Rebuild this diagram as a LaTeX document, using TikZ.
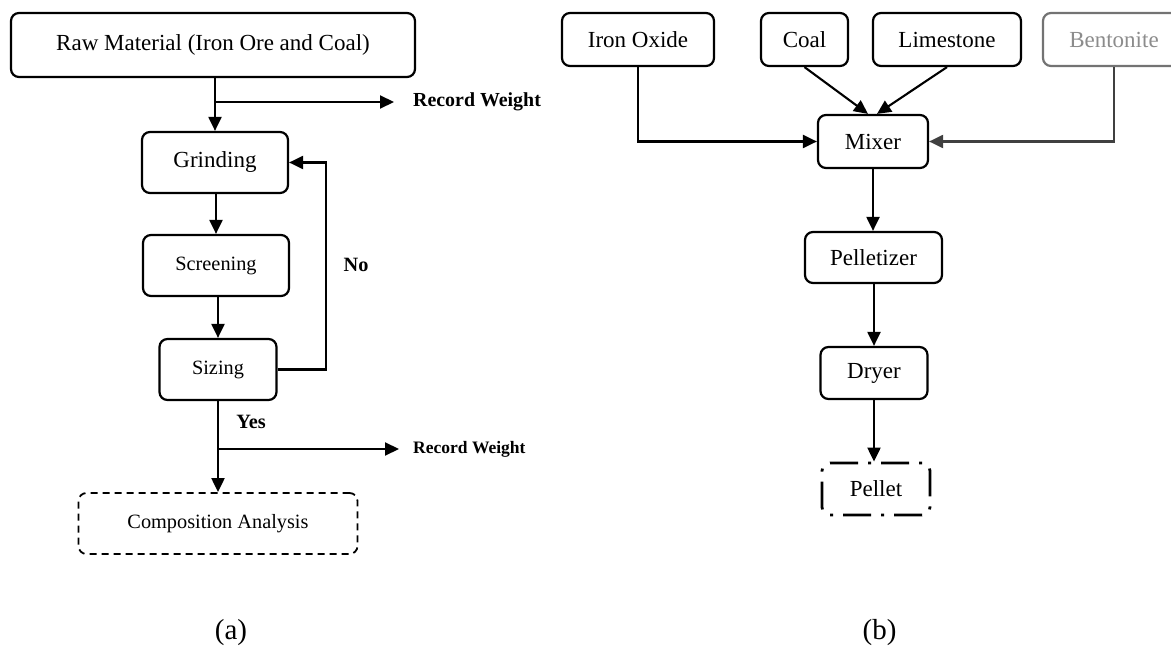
\documentclass[tikz,border=0pt]{standalone}
\usepackage{fontspec}
\setmainfont{Liberation Serif}
\usetikzlibrary{arrows.meta}
\newcommand{\fsA}{\fontsize{23}{26}\selectfont}
\newcommand{\fsB}{\fontsize{20.3}{23}\selectfont}
\newcommand{\fsL}{\fontsize{29}{32}\selectfont}
\tikzset{
  box/.style={draw, rounded corners=8pt, line width=2.2pt, inner sep=0pt, font=\fsA},
  dbox/.style={box, dash pattern=on 7pt off 5pt, line width=1.8pt},
  ddbox/.style={box, line width=2.8pt, dash pattern=on 3pt off 10pt on 28pt off 10pt},
  lbl/.style={inner sep=0pt, font=\bfseries\fsB},
  arr/.style={line width=2.1pt, -{Triangle[length=14pt,width=13pt]}},
}
\begin{document}
\begin{tikzpicture}[x=1pt,y=-1pt]
\useasboundingbox (0,0) rectangle (1171,650);
\clip (0,0) rectangle (1171,650);
\fill[white] (0,0) rectangle (1171,650);
% ---------- panel (a)
\node[box, minimum width=404pt, minimum height=64pt] (raw) at (213,45) {Raw Material (Iron Ore and Coal)};
\node[box, minimum width=146pt, minimum height=61pt] (grind) at (215,162.5) {Grinding};
\node[box, minimum width=146pt, minimum height=61pt, font=\fsB] (screen) at (216,265.5) {Screening};
\node[box, minimum width=117pt, minimum height=61pt, font=\fsB] (siz) at (218,369.5) {Sizing};
\node[dbox, minimum width=279pt, minimum height=61pt, font=\fsB] (comp) at (218,523.5) {Composition Analysis};
\node[lbl, anchor=west, font=\bfseries\fontsize{19.9}{22}\selectfont] (rw1) at (413,102) {Record Weight};
\node[lbl, anchor=west, font=\bfseries\fontsize{17.5}{20}\selectfont] (rw2) at (413,449) {Record Weight};
\node[lbl] (no) at (356,265) {No};
\node[lbl] (yes) at (251,422) {Yes};
\node[inner sep=0pt, font=\fsL] (la) at (231,633) {(a)};
\coordinate (b1) at (215,102);
\coordinate (t1) at (394,102);
\coordinate (b2) at (218,449);
\coordinate (t2) at (399,449);
\coordinate (fb) at (326,369.5);
\draw[arr] (raw.south -| grind.north) -- (grind.north);
\draw[arr] (b1) -- (t1);
\draw[arr] (grind.south -| screen.north) -- (screen.north);
\draw[arr] (screen.south -| siz.north) -- (siz.north);
\draw[arr] (siz.east) -- (fb) |- (grind.east);
\draw[arr] (siz.south) -- (comp.north);
\draw[arr] (b2) -- (t2);
% ---------- panel (b)
\node[box, minimum width=152pt, minimum height=53pt] (iron) at (638,39.5) {Iron Oxide};
\node[box, minimum width=87pt, minimum height=53pt] (coal) at (804.5,39.5) {Coal};
\node[box, minimum width=148pt, minimum height=53pt] (lime) at (947,39.5) {Limestone};
\node[box, draw=black!55, text=black!45, minimum width=142pt, minimum height=53pt] (bent) at (1114,39.5) {Bentonite};
\node[box, minimum width=110pt, minimum height=53pt] (mixer) at (873,141.5) {Mixer};
\node[box, minimum width=137pt, minimum height=51pt] (pelz) at (873.5,257.5) {Pelletizer};
\node[box, minimum width=107pt, minimum height=52pt] (dryer) at (874,373) {Dryer};
\node[ddbox, minimum width=108pt, minimum height=52pt] (pellet) at (876,489) {Pellet};
\node[inner sep=0pt, font=\fsL] (lb) at (879.5,633) {(b)};
\draw[arr] (iron.south) |- (mixer.west);
\draw[arr] (coal.south) -- ([xshift=-5pt]mixer.north);
\draw[arr] (lime.south) -- ([xshift=4pt]mixer.north);
\draw[arr, color=black!75] (bent.south) |- (mixer.east);
\draw[arr] (mixer.south) -- (mixer.south |- pelz.north);
\draw[arr] (pelz.south -| dryer.north) -- (dryer.north);
\draw[arr] (dryer.south) -- (dryer.south |- pellet.north);
\end{tikzpicture}
\end{document}
